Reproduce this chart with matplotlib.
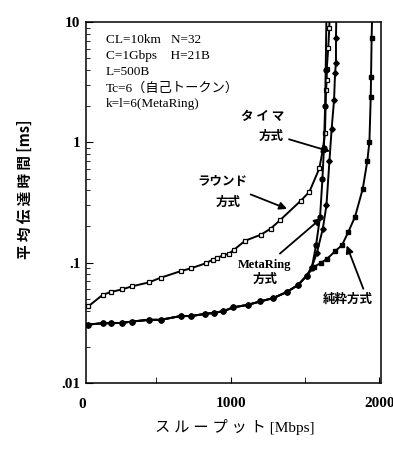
import matplotlib
matplotlib.use("Agg")
import matplotlib.pyplot as plt
from matplotlib.ticker import FixedLocator, FixedFormatter, LogLocator, NullFormatter

# ---- data (throughput Mbps, mean delay ms) ----
low_x = [42, 139, 193, 271, 334, 451, 530, 664, 733, 828, 888, 951, 1018, 1119, 1198, 1287, 1378, 1456, 1512]
low_y = [0.0306, 0.0314, 0.0314, 0.0316, 0.0324, 0.0335, 0.0335, 0.036, 0.036, 0.0375, 0.0383, 0.0395,
         0.0425, 0.0447, 0.0476, 0.0508, 0.057, 0.0656, 0.078]

round_x = [42, 139, 193, 271, 334, 451, 530, 664, 733, 834, 879, 910, 951, 989, 1023, 1097, 1205, 1270,
           1332, 1472, 1530, 1597, 1620, 1635, 1642, 1647, 1647, 1657, 1664, 1667]
round_y = [0.0433, 0.054, 0.057, 0.060, 0.0635, 0.0686, 0.075, 0.085, 0.0897, 0.099, 0.106, 0.110, 0.115,
           0.119, 0.128, 0.152, 0.171, 0.192, 0.225, 0.327, 0.388, 0.607, 0.863, 1.19, 2.73, 3.3, 4.1,
           6.07, 8.9, 12.0]

timer_tail_x = [1546, 1580, 1620, 1645, 1665, 1680, 1696, 1703, 1709, 1709, 1712]
timer_tail_y = [0.092, 0.12, 0.19, 0.30, 0.70, 1.3, 2.24, 3.76, 4.6, 7.4, 12.0]

meta_tail_x = [1546, 1575, 1602, 1618, 1628, 1636, 1640, 1645]
meta_tail_y = [0.090, 0.14, 0.24, 0.50, 0.90, 2.0, 4.0, 12.0]

pure_tail_x = [1560, 1610, 1650, 1705, 1750, 1792, 1837, 1889, 1920, 1934, 1943, 1945, 1949, 1953]
pure_tail_y = [0.092, 0.100, 0.108, 0.125, 0.14, 0.18, 0.24, 0.41, 0.70, 1.01, 2.4, 3.5, 7.4, 12.0]

x_ticklabels = ["1000", "2000"]
y_ticks = [0.01, 0.1, 1, 10]
y_ticklabels = [".01", ".1", "1", "10"]

params = ["CL=10km   N=32", "C=1Gbps    H=21B", "L=500B", "Tc=6（自己トークン）", "k=l=6(MetaRing)"]

SERIF = ["Liberation Serif", "Noto Sans CJK JP"]
CJK = ["Noto Sans CJK JP", "Liberation Serif"]

W, H = 393, 449
fig = plt.figure(figsize=(W / 100, H / 100), dpi=100)
ax = fig.add_axes([86 / W, (H - 383) / H, 295 / W, 361 / H])
ax.set_yscale("log")
ax.set_xlim(27, 2012)
ax.set_ylim(0.01, 10)

lw = 1.4
ax.plot(round_x, round_y, color="black", lw=lw, marker="s", ms=3.5, mfc="white", mec="black", mew=0.9, zorder=3)
ax.plot(low_x + timer_tail_x, low_y + timer_tail_y, color="black", lw=lw, marker="D", ms=2.8,
        mfc="black", mec="black", zorder=3)
ax.plot(low_x + meta_tail_x, low_y + meta_tail_y, color="black", lw=lw, marker="o", ms=3.5,
        mfc="black", mec="black", zorder=3)
ax.plot(low_x + pure_tail_x, low_y + pure_tail_y, color="black", lw=lw, marker="s", ms=3.5,
        mfc="black", mec="black", zorder=4)

# ticks
ax.xaxis.set_major_locator(FixedLocator([1000, 2000]))
ax.xaxis.set_major_formatter(FixedFormatter(x_ticklabels))
ax.xaxis.set_minor_locator(FixedLocator([500, 1500]))
ax.yaxis.set_major_locator(FixedLocator(y_ticks))
ax.yaxis.set_major_formatter(FixedFormatter(y_ticklabels))
ax.yaxis.set_minor_locator(LogLocator(base=10, subs=range(2, 10)))
ax.yaxis.set_minor_formatter(NullFormatter())
ax.tick_params(axis="both", which="both", direction="in", top=False, right=False)
ax.tick_params(axis="x", which="major", length=4, pad=10)
ax.tick_params(axis="x", which="minor", length=4)
ax.tick_params(axis="y", which="major", length=5, pad=4)
ax.tick_params(axis="y", which="minor", length=3)
for lab in ax.get_xticklabels() + ax.get_yticklabels():
    lab.set_fontfamily(SERIF)
    lab.set_fontweight("bold")
    lab.set_fontsize(11)
ax.text(0, -(405 - 383) / 361, "0", transform=ax.get_xaxis_transform(), ha="center", va="center",
        fontsize=11, fontweight="bold", family=SERIF, clip_on=False)
for s in ax.spines.values():
    s.set_linewidth(1.1)
    s.set_color("black")

# axis labels
fig.text(25 / W, 1 - 189 / H, "平 均 伝 達 時 間 [ms]", rotation=90, ha="center", va="center",
         fontsize=10.5, family=CJK, fontweight="bold")
fig.text(235 / W, 1 - 427 / H, "ス ル ー プ ッ ト [Mbps]", ha="center", va="center",
         fontsize=11, family=SERIF)

# parameter block
for i, line in enumerate(params):
    ax.text(161, 10 ** (0.85 - i * 0.133), line, ha="left", va="center", fontsize=9.5, family=SERIF)

# series labels and arrows
tk = dict(fontsize=9, family=CJK, fontweight="bold", ha="center", va="center")
ax.text(1218, 1.65, "タ イ マ", **tk)
ax.text(1272, 1.12, "方式", **tk)
ax.text(942, 0.473, "ラウンド", **tk)
ax.text(983, 0.32, "方式", **tk)
ax.text(1231, 0.0962, "MetaRing", fontsize=9, family=SERIF, fontweight="bold", ha="center", va="center")
ax.text(1231, 0.072, "方式", **tk)
ax.text(1790, 0.050, "純粋方式", **tk)

ap = dict(arrowstyle="-|>", color="black", lw=1.3, mutation_scale=11, shrinkA=0, shrinkB=0)
ax.annotate("", xy=(1669, 0.84), xytext=(1393, 1.06), arrowprops=ap)
ax.annotate("", xy=(1380, 0.28), xytext=(1135, 0.369), arrowprops=ap)
ax.annotate("", xy=(1613, 0.236), xytext=(1332, 0.119), arrowprops=ap)
ax.annotate("", xy=(1781, 0.139), xytext=(1893, 0.0607), arrowprops=ap)

fig.savefig("out.png", dpi=100)
